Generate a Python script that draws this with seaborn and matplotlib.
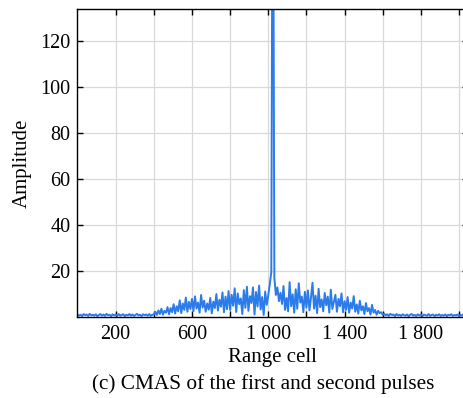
import numpy as np
import pandas as pd
import matplotlib
matplotlib.use("Agg")
import matplotlib.pyplot as plt
import seaborn as sns

# ----------------------------
# DATA (amplitude, one value every 8 range cells)
# ----------------------------
CELL_STEP = 8

# cells 0 - 392
amp_floor_left = [1.1, 0.5, 0.9, 0.3, 1.2, 0.7, 1.0, 0.4, 1.3, 0.6,
                  0.9, 0.5, 1.1, 0.3, 0.8, 1.2, 0.5, 1.0, 0.4, 1.3,
                  0.7, 0.9, 0.3, 1.1, 0.6, 1.0, 0.4, 1.2, 0.5, 0.8,
                  1.1, 0.3, 0.9, 0.6, 1.2, 0.5, 1.0, 0.4, 0.8, 1.3,
                  0.6, 0.9, 0.3, 1.1, 0.7, 1.0, 0.5, 1.2, 0.4, 0.9]
# cells 400 - 592
amp_rise = [1.0, 2.2, 0.8, 2.8, 1.2, 3.5, 0.9, 2.6, 1.8, 4.2,
            1.1, 3.8, 2.0, 5.5, 1.4, 4.6, 2.4, 7.2, 1.6, 5.8,
            3.0, 8.4, 2.2, 6.5, 3.4]
# cells 600 - 792
amp_600 = [7.8, 2.5, 8.9, 3.6, 6.2, 1.8, 9.5, 4.0, 7.0, 2.2,
           5.8, 3.1, 8.2, 1.5, 6.6, 3.8, 9.9, 2.7, 7.4, 4.4,
           10.6, 2.0, 8.8, 3.3, 11.2]
# cells 800 - 1008
amp_800 = [3.0, 9.6, 4.8, 12.4, 2.1, 10.2, 5.5, 8.0, 1.2, 11.6,
           3.9, 13.1, 2.6, 9.0, 6.0, 12.8, 1.0, 10.8, 4.5, 13.6,
           3.2, 8.6, 0.8, 11.0, 5.2, 9.4, 14.2]
# cells 1016, 1024 (target peak, off scale)
amp_peak = [19.5, 250.0]
# cells 1032 - 1200
amp_1032 = [17.0, 9.5, 12.8, 6.8, 10.5, 5.6, 13.4, 3.0, 8.2, 2.4,
            15.1, 4.6, 9.8, 1.8, 12.0, 3.5, 14.6, 6.2, 8.8, 2.0,
            10.9, 4.0]
# cells 1208 - 1400
amp_1208 = [11.5, 2.8, 8.4, 14.8, 3.6, 9.2, 1.6, 12.2, 4.2, 7.6,
            2.4, 10.4, 5.0, 8.8, 1.8, 11.8, 3.4, 6.4, 9.6, 2.2,
            7.8, 4.6, 10.2, 2.0, 6.8]
# cells 1408 - 1600
amp_fall = [3.0, 8.6, 1.8, 6.2, 3.6, 9.0, 2.2, 5.4, 1.4, 7.0,
            2.8, 4.6, 1.2, 6.0, 2.4, 3.8, 1.0, 5.2, 1.8, 3.0,
            0.9, 2.6, 1.6, 2.0, 0.8]
# cells 1608 - 2040
amp_floor_right = [1.4, 0.6, 1.1, 0.4, 1.3, 0.8, 1.0, 0.3, 1.2, 0.6,
                   0.9, 0.4, 1.1, 0.7, 0.5, 1.0, 0.3, 0.9, 1.2, 0.5,
                   0.8, 0.4, 1.1, 0.6, 0.9, 0.3, 1.0, 0.7, 0.5, 1.2,
                   0.4, 0.8, 1.0, 0.3, 0.9, 0.6, 1.1, 0.4, 0.8, 0.5,
                   1.0, 0.3, 0.9, 0.7, 1.1, 0.4, 0.8, 0.6, 1.0, 0.3,
                   0.9, 0.5, 1.1, 0.4, 0.8]

x_major = [200, 600, 1000, 1400, 1800]
x_labels = ["200", "600", "1 000", "1 400", "1 800"]
x_minor = [400, 800, 1200, 1600, 2000]
y_ticks = [20, 40, 60, 80, 100, 120]

amp = (amp_floor_left + amp_rise + amp_600 + amp_800 + amp_peak
       + amp_1032 + amp_1208 + amp_fall + amp_floor_right)
df = pd.DataFrame({"cell": np.arange(len(amp)) * CELL_STEP, "amp": amp})

# ----------------------------
# PLOT
# ----------------------------
sns.set_style("ticks")
plt.rcParams["font.family"] = ["Liberation Serif", "DejaVu Serif"]
plt.rcParams["text.color"] = "black"
plt.rcParams["axes.labelcolor"] = "black"
plt.rcParams["xtick.color"] = "black"
plt.rcParams["ytick.color"] = "black"

fig = plt.figure(figsize=(4.64, 3.98), dpi=100)
ax = fig.add_axes([0.167, 0.204, 0.842, 0.773])

sns.lineplot(data=df, x="cell", y="amp", ax=ax, color="#2b7bea",
             linewidth=1.4, estimator=None)

ax.set_xlim(0, 2048)
ax.set_ylim(0, 134)
ax.set_xticks(x_major)
ax.set_xticklabels(x_labels)
ax.set_xticks(x_minor, minor=True)
ax.set_yticks(y_ticks)

ax.grid(True, which="both", color="#d9d9d9", linewidth=0.9)
ax.set_axisbelow(True)
ax.tick_params(which="both", direction="in", top=True, right=True,
               length=4, width=1.0, labelsize=14.5, color="black")
ax.tick_params(axis="x", pad=6)
ax.tick_params(axis="y", pad=5)
for s in ax.spines.values():
    s.set_linewidth(1.0)
    s.set_color("black")

ax.set_xlabel("Range cell", fontsize=15, labelpad=3)
ax.set_ylabel("Amplitude", fontsize=15, labelpad=6)
fig.text(0.568, 0.035, "(c) CMAS of the first and second pulses",
         ha="center", va="center", fontsize=15.3)

fig.savefig("out.png", dpi=100)
